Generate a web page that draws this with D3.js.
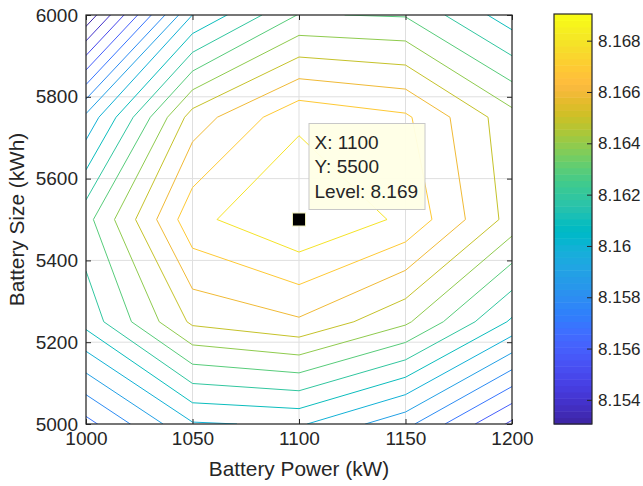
<!DOCTYPE html>
<html>

<head>
    <meta charset="utf-8">
    <title>Battery contour</title>
    <script src="https://d3js.org/d3.v7.min.js"></script>
    <style>
        body { margin: 0; background: #fff; }
        text { font-family: "Liberation Sans", Arial, Helvetica, sans-serif; fill: #262626; }
    </style>
</head>

<body>
    <div id='view'></div>

    <script>
        // grid of the contour data
        var powerKW = [1000, 1050, 1100, 1150, 1200];
        var sizeKWh = [5000, 5250, 5500, 5750, 6000];
        // one row per battery size, one column per battery power
        var levelGrid = [
            [8.15665, 8.15990, 8.16014, 8.15831, 8.15478],
            [8.16136, 8.16520, 8.16586, 8.16419, 8.16084],
            [8.16265, 8.16770, 8.16900, 8.16779, 8.16461],
            [8.15925, 8.16546, 8.16778, 8.16717, 8.16437],
            [8.15222, 8.16001, 8.16306, 8.16292, 8.16043]
        ];
        var contourLevels = [8.153, 8.154, 8.155, 8.156, 8.157, 8.158, 8.159, 8.160,
            8.161, 8.162, 8.163, 8.164, 8.165, 8.166, 8.167, 8.168];
        var xTicks = [1000, 1050, 1100, 1150, 1200];
        var yTicks = [5000, 5200, 5400, 5600, 5800, 6000];
        var cbTicks = [8.154, 8.156, 8.158, 8.16, 8.162, 8.164, 8.166, 8.168];
        var colorLimits = [8.15306, 8.16904];
        var tip = { x: 1100, y: 5500, level: 8.169 };

        // parula colormap (64 entries)
        var parula = [
            [0.2422, 0.1504, 0.6603], [0.2504, 0.1650, 0.7076], [0.2578, 0.1818, 0.7511], [0.2647, 0.1978, 0.7952],
            [0.2706, 0.2147, 0.8364], [0.2751, 0.2342, 0.8710], [0.2783, 0.2559, 0.8991], [0.2803, 0.2782, 0.9221],
            [0.2813, 0.3006, 0.9414], [0.2810, 0.3228, 0.9579], [0.2795, 0.3447, 0.9717], [0.2760, 0.3667, 0.9829],
            [0.2699, 0.3892, 0.9906], [0.2602, 0.4123, 0.9952], [0.2440, 0.4358, 0.9988], [0.2206, 0.4603, 0.9973],
            [0.1963, 0.4847, 0.9892], [0.1834, 0.5074, 0.9798], [0.1786, 0.5289, 0.9682], [0.1764, 0.5499, 0.9520],
            [0.1687, 0.5703, 0.9359], [0.1540, 0.5902, 0.9218], [0.1460, 0.6091, 0.9079], [0.1380, 0.6276, 0.8973],
            [0.1248, 0.6459, 0.8883], [0.1113, 0.6635, 0.8763], [0.0952, 0.6798, 0.8598], [0.0689, 0.6948, 0.8394],
            [0.0297, 0.7082, 0.8163], [0.0036, 0.7203, 0.7917], [0.0067, 0.7312, 0.7660], [0.0433, 0.7411, 0.7394],
            [0.0964, 0.7500, 0.7120], [0.1408, 0.7584, 0.6842], [0.1717, 0.7670, 0.6554], [0.1938, 0.7758, 0.6251],
            [0.2161, 0.7843, 0.5923], [0.2470, 0.7918, 0.5567], [0.2906, 0.7973, 0.5188], [0.3406, 0.8008, 0.4789],
            [0.3909, 0.8029, 0.4354], [0.4456, 0.8024, 0.3909], [0.5044, 0.7993, 0.3480], [0.5616, 0.7942, 0.3045],
            [0.6174, 0.7876, 0.2612], [0.6720, 0.7793, 0.2227], [0.7242, 0.7698, 0.1910], [0.7738, 0.7598, 0.1646],
            [0.8203, 0.7498, 0.1535], [0.8634, 0.7406, 0.1596], [0.9035, 0.7330, 0.1774], [0.9393, 0.7288, 0.2100],
            [0.9728, 0.7298, 0.2394], [0.9956, 0.7434, 0.2371], [0.9970, 0.7659, 0.2199], [0.9952, 0.7893, 0.2028],
            [0.9892, 0.8136, 0.1885], [0.9786, 0.8386, 0.1766], [0.9676, 0.8639, 0.1643], [0.9610, 0.8890, 0.1537],
            [0.9597, 0.9135, 0.1423], [0.9628, 0.9373, 0.1265], [0.9691, 0.9606, 0.1064], [0.9769, 0.9839, 0.0805]
        ].map(function (c) { return d3.rgb(c[0] * 255, c[1] * 255, c[2] * 255).toString(); });

        var width = 643;
        var height = 486;
        var plotL = 86, plotT = 15, plotR = 512, plotB = 424;
        var axisColor = "#262626";
        var fontFam = "'Liberation Sans', Arial, sans-serif";

        var svg = d3.select("#view")
            .append("svg")
            .attr("width", width)
            .attr("height", height);

        var x = d3.scaleLinear().domain([powerKW[0], powerKW[powerKW.length - 1]]).range([plotL, plotR]);
        var y = d3.scaleLinear().domain([sizeKWh[0], sizeKWh[sizeKWh.length - 1]]).range([plotB, plotT]);
        var color = d3.scaleQuantize().domain(colorLimits).range(parula);

        // grid lines
        svg.append("g").selectAll("line").data(xTicks).join("line")
            .attr("x1", d => x(d)).attr("x2", d => x(d))
            .attr("y1", plotT).attr("y2", plotB)
            .attr("stroke", "#dfdfdf");
        svg.append("g").selectAll("line").data(yTicks).join("line")
            .attr("y1", d => y(d)).attr("y2", d => y(d))
            .attr("x1", plotL).attr("x2", plotR)
            .attr("stroke", "#dfdfdf");

        // contour lines (grid cell i sits at coordinate i + 0.5 in d3.contours space)
        var nx = powerKW.length, ny = sizeKWh.length;
        var values = [];
        levelGrid.forEach(function (row) { row.forEach(function (v) { values.push(v); }); });
        var gx = d3.scaleLinear().domain([0.5, nx - 0.5]).range([x(powerKW[0]), x(powerKW[nx - 1])]);
        var gy = d3.scaleLinear().domain([0.5, ny - 0.5]).range([y(sizeKWh[0]), y(sizeKWh[ny - 1])]);
        var proj = d3.geoTransform({
            point: function (px, py) { this.stream.point(gx(px), gy(py)); }
        });
        var path = d3.geoPath(proj);
        var contours = d3.contours().size([nx, ny]).thresholds(contourLevels)(values);

        svg.append("defs").append("clipPath").attr("id", "plotClip")
            .append("rect")
            .attr("x", plotL).attr("y", plotT)
            .attr("width", plotR - plotL).attr("height", plotB - plotT);

        svg.append("g")
            .attr("clip-path", "url(#plotClip)")
            .selectAll("path").data(contours).join("path")
            .attr("d", path)
            .attr("fill", "none")
            .attr("stroke", d => color(d.value))
            .attr("stroke-width", 1);

        // axes, ticks on all four sides pointing inward
        var tk = 5;
        var fmt = d3.format("d");
        svg.append("g").attr("transform", "translate(0," + plotB + ")")
            .call(d3.axisBottom(x).tickValues(xTicks).tickFormat(fmt).tickSizeInner(-tk).tickSizeOuter(0).tickPadding(8));
        svg.append("g").attr("transform", "translate(0," + plotT + ")")
            .call(d3.axisTop(x).tickValues(xTicks).tickSizeInner(-tk).tickSizeOuter(0).tickFormat(""));
        svg.append("g").attr("transform", "translate(" + plotL + ",0)")
            .call(d3.axisLeft(y).tickValues(yTicks).tickFormat(fmt).tickSizeInner(-tk).tickSizeOuter(0).tickPadding(8));
        svg.append("g").attr("transform", "translate(" + plotR + ",0)")
            .call(d3.axisRight(y).tickValues(yTicks).tickSizeInner(-tk).tickSizeOuter(0).tickFormat(""));
        svg.selectAll(".domain").remove();
        svg.selectAll(".tick line").attr("stroke", axisColor);
        svg.selectAll(".tick text").attr("font-size", 19).attr("fill", axisColor)
            .attr("font-family", fontFam);

        svg.append("rect")
            .attr("x", plotL).attr("y", plotT)
            .attr("width", plotR - plotL).attr("height", plotB - plotT)
            .attr("fill", "none").attr("stroke", axisColor).attr("stroke-width", 1.2);

        // axis titles
        svg.append("text")
            .attr("x", (plotL + plotR) / 2).attr("y", 476)
            .attr("text-anchor", "middle").attr("font-size", 20.8)
            .text("Battery Power (kW)");
        svg.append("text")
            .attr("transform", "translate(24," + (plotT + plotB) / 2 + ") rotate(-90)")
            .attr("text-anchor", "middle").attr("font-size", 20.8)
            .text("Battery Size (kWh)");

        // data tip
        var tipX = x(tip.x), tipY = y(tip.y);
        var tipBox = svg.append("g").attr("transform", "translate(" + (tipX + 10) + "," + (tipY - 96) + ")");
        tipBox.append("rect")
            .attr("width", 116).attr("height", 86)
            .attr("fill", "#ffffe6").attr("fill-opacity", 0.95)
            .attr("stroke", "#c8c8c8");
        ["X: " + tip.x, "Y: " + tip.y, "Level: " + tip.level].forEach(function (t, i) {
            tipBox.append("text")
                .attr("x", 5.5).attr("y", 25 + i * 24.5)
                .attr("font-size", 19).attr("fill", "#111")
                .text(t);
        });
        svg.append("rect")
            .attr("x", tipX - 6.5).attr("y", tipY - 6.5)
            .attr("width", 13).attr("height", 13)
            .attr("fill", "#000").attr("stroke", "#eeeebb").attr("stroke-width", 1);

        // colorbar
        var cbLeft = 554, cbRight = 592, cbTop = 14, cbBottom = 424;
        var yc = d3.scaleLinear().domain(colorLimits).range([cbBottom, cbTop]);
        var bandH = (cbBottom - cbTop) / parula.length;
        svg.append("g").selectAll("rect").data(parula).join("rect")
            .attr("x", cbLeft)
            .attr("y", (d, i) => cbBottom - (i + 1) * bandH)
            .attr("width", cbRight - cbLeft)
            .attr("height", bandH + 0.5)
            .attr("fill", d => d);
        var cbAxis = svg.append("g").attr("transform", "translate(" + cbRight + ",0)")
            .call(d3.axisRight(yc).tickValues(cbTicks).tickSizeInner(-tk).tickSizeOuter(0).tickPadding(6)
                .tickFormat(d => String(+d.toFixed(3))));
        cbAxis.select(".domain").remove();
        cbAxis.selectAll(".tick line").attr("stroke", axisColor);
        cbAxis.selectAll(".tick text").attr("font-size", 17).attr("fill", axisColor)
            .attr("font-family", fontFam);
        svg.append("rect")
            .attr("x", cbLeft).attr("y", cbTop)
            .attr("width", cbRight - cbLeft).attr("height", cbBottom - cbTop)
            .attr("fill", "none").attr("stroke", axisColor).attr("stroke-width", 1.2);
    </script>

</body>

</html>
